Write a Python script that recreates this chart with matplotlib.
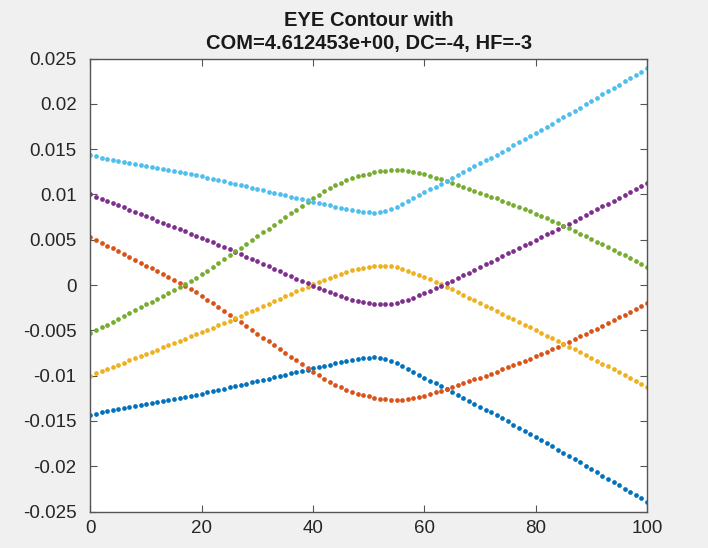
import numpy as np
import matplotlib.pyplot as plt

plt.rcParams['font.family'] = ['Liberation Sans', 'DejaVu Sans']

# sample index along the eye
sample = np.arange(101)

# eye contour traces, one value per sample
trace_blue = [
    -0.01430, -0.01419, -0.01407, -0.01396, -0.01384, -0.01373, -0.01361, -0.01350, -0.01338, -0.01327,
    -0.01315, -0.01304, -0.01292, -0.01281, -0.01269, -0.01258, -0.01246, -0.01235, -0.01223, -0.01212,
    -0.01200, -0.01186, -0.01172, -0.01158, -0.01144, -0.01130, -0.01116, -0.01102, -0.01088, -0.01074,
    -0.01060, -0.01046, -0.01032, -0.01018, -0.01004, -0.00990, -0.00976, -0.00962, -0.00948, -0.00934,
    -0.00920, -0.00906, -0.00892, -0.00878, -0.00865, -0.00852, -0.00840, -0.00829, -0.00819, -0.00810,
    -0.00804, -0.00800, -0.00803, -0.00815, -0.00836, -0.00864, -0.00895, -0.00927, -0.00959, -0.00991,
    -0.01023, -0.01055, -0.01087, -0.01119, -0.01151, -0.01183, -0.01215, -0.01247, -0.01279, -0.01311,
    -0.01343, -0.01375, -0.01407, -0.01440, -0.01473, -0.01506, -0.01540, -0.01574, -0.01608, -0.01642,
    -0.01677, -0.01712, -0.01747, -0.01782, -0.01817, -0.01852, -0.01887, -0.01923, -0.01959, -0.01995,
    -0.02031, -0.02067, -0.02103, -0.02139, -0.02175, -0.02211, -0.02247, -0.02283, -0.02319, -0.02355,
    -0.02391,
]
trace_orange = [
    0.00530, 0.00499, 0.00467, 0.00436, 0.00404, 0.00373, 0.00341, 0.00310, 0.00278, 0.00247,
    0.00215, 0.00184, 0.00152, 0.00121, 0.00089, 0.00058, 0.00026, -0.00007, -0.00043, -0.00080,
    -0.00118, -0.00160, -0.00202, -0.00244, -0.00286, -0.00328, -0.00370, -0.00412, -0.00454, -0.00496,
    -0.00538, -0.00580, -0.00622, -0.00664, -0.00706, -0.00748, -0.00790, -0.00832, -0.00874, -0.00916,
    -0.00957, -0.00996, -0.01033, -0.01068, -0.01100, -0.01129, -0.01155, -0.01178, -0.01198, -0.01215,
    -0.01230, -0.01243, -0.01254, -0.01262, -0.01267, -0.01268, -0.01265, -0.01258, -0.01248, -0.01235,
    -0.01220, -0.01203, -0.01185, -0.01165, -0.01145, -0.01125, -0.01105, -0.01084, -0.01063, -0.01042,
    -0.01021, -0.00999, -0.00977, -0.00955, -0.00932, -0.00909, -0.00886, -0.00862, -0.00838, -0.00813,
    -0.00788, -0.00762, -0.00736, -0.00709, -0.00682, -0.00654, -0.00626, -0.00597, -0.00568, -0.00539,
    -0.00510, -0.00480, -0.00450, -0.00420, -0.00389, -0.00358, -0.00327, -0.00295, -0.00263, -0.00231,
    -0.00199,
]
trace_yellow = [
    -0.01000, -0.00976, -0.00952, -0.00928, -0.00904, -0.00880, -0.00856, -0.00832, -0.00808, -0.00784,
    -0.00760, -0.00736, -0.00712, -0.00688, -0.00664, -0.00640, -0.00616, -0.00592, -0.00568, -0.00544,
    -0.00520, -0.00495, -0.00470, -0.00445, -0.00420, -0.00395, -0.00368, -0.00341, -0.00314, -0.00287,
    -0.00260, -0.00233, -0.00206, -0.00179, -0.00152, -0.00125, -0.00098, -0.00071, -0.00045, -0.00019,
    0.00006, 0.00031, 0.00056, 0.00080, 0.00103, 0.00124, 0.00144, 0.00162, 0.00178, 0.00192,
    0.00203, 0.00211, 0.00215, 0.00214, 0.00207, 0.00195, 0.00179, 0.00160, 0.00138, 0.00114,
    0.00089, 0.00063, 0.00036, 0.00009, -0.00018, -0.00048, -0.00078, -0.00108, -0.00138, -0.00168,
    -0.00198, -0.00228, -0.00258, -0.00288, -0.00318, -0.00348, -0.00378, -0.00408, -0.00438, -0.00468,
    -0.00498, -0.00528, -0.00558, -0.00588, -0.00618, -0.00648, -0.00679, -0.00710, -0.00741, -0.00772,
    -0.00803, -0.00835, -0.00867, -0.00899, -0.00931, -0.00963, -0.00995, -0.01027, -0.01059, -0.01091,
    -0.01123,
]
trace_purple = [
    0.01000, 0.00976, 0.00952, 0.00928, 0.00904, 0.00880, 0.00856, 0.00832, 0.00808, 0.00784,
    0.00760, 0.00736, 0.00712, 0.00688, 0.00664, 0.00640, 0.00616, 0.00592, 0.00568, 0.00544,
    0.00520, 0.00495, 0.00470, 0.00445, 0.00420, 0.00395, 0.00368, 0.00341, 0.00314, 0.00287,
    0.00260, 0.00233, 0.00206, 0.00179, 0.00152, 0.00125, 0.00098, 0.00071, 0.00045, 0.00019,
    -0.00006, -0.00031, -0.00056, -0.00080, -0.00103, -0.00124, -0.00144, -0.00162, -0.00178, -0.00192,
    -0.00203, -0.00211, -0.00215, -0.00214, -0.00207, -0.00195, -0.00179, -0.00160, -0.00138, -0.00114,
    -0.00089, -0.00063, -0.00036, -0.00009, 0.00018, 0.00048, 0.00078, 0.00108, 0.00138, 0.00168,
    0.00198, 0.00228, 0.00258, 0.00288, 0.00318, 0.00348, 0.00378, 0.00408, 0.00438, 0.00468,
    0.00498, 0.00528, 0.00558, 0.00588, 0.00618, 0.00648, 0.00679, 0.00710, 0.00741, 0.00772,
    0.00803, 0.00835, 0.00867, 0.00899, 0.00931, 0.00963, 0.00995, 0.01027, 0.01059, 0.01091,
    0.01123,
]
trace_green = [
    -0.00530, -0.00499, -0.00467, -0.00436, -0.00404, -0.00373, -0.00341, -0.00310, -0.00278, -0.00247,
    -0.00215, -0.00184, -0.00152, -0.00121, -0.00089, -0.00058, -0.00026, 0.00007, 0.00043, 0.00080,
    0.00118, 0.00160, 0.00202, 0.00244, 0.00286, 0.00328, 0.00370, 0.00412, 0.00454, 0.00496,
    0.00538, 0.00580, 0.00622, 0.00664, 0.00706, 0.00748, 0.00790, 0.00832, 0.00874, 0.00916,
    0.00957, 0.00996, 0.01033, 0.01068, 0.01100, 0.01129, 0.01155, 0.01178, 0.01198, 0.01215,
    0.01230, 0.01243, 0.01254, 0.01262, 0.01267, 0.01268, 0.01265, 0.01258, 0.01248, 0.01235,
    0.01220, 0.01203, 0.01185, 0.01165, 0.01145, 0.01125, 0.01105, 0.01084, 0.01063, 0.01042,
    0.01021, 0.00999, 0.00977, 0.00955, 0.00932, 0.00909, 0.00886, 0.00862, 0.00838, 0.00813,
    0.00788, 0.00762, 0.00736, 0.00709, 0.00682, 0.00654, 0.00626, 0.00597, 0.00568, 0.00539,
    0.00510, 0.00480, 0.00450, 0.00420, 0.00389, 0.00358, 0.00327, 0.00295, 0.00263, 0.00231,
    0.00199,
]
trace_cyan = [
    0.01430, 0.01419, 0.01407, 0.01396, 0.01384, 0.01373, 0.01361, 0.01350, 0.01338, 0.01327,
    0.01315, 0.01304, 0.01292, 0.01281, 0.01269, 0.01258, 0.01246, 0.01235, 0.01223, 0.01212,
    0.01200, 0.01186, 0.01172, 0.01158, 0.01144, 0.01130, 0.01116, 0.01102, 0.01088, 0.01074,
    0.01060, 0.01046, 0.01032, 0.01018, 0.01004, 0.00990, 0.00976, 0.00962, 0.00948, 0.00934,
    0.00920, 0.00906, 0.00892, 0.00878, 0.00865, 0.00852, 0.00840, 0.00829, 0.00819, 0.00810,
    0.00804, 0.00800, 0.00803, 0.00815, 0.00836, 0.00864, 0.00895, 0.00927, 0.00959, 0.00991,
    0.01023, 0.01055, 0.01087, 0.01119, 0.01151, 0.01183, 0.01215, 0.01247, 0.01279, 0.01311,
    0.01343, 0.01375, 0.01407, 0.01440, 0.01473, 0.01506, 0.01540, 0.01574, 0.01608, 0.01642,
    0.01677, 0.01712, 0.01747, 0.01782, 0.01817, 0.01852, 0.01887, 0.01923, 0.01959, 0.01995,
    0.02031, 0.02067, 0.02103, 0.02139, 0.02175, 0.02211, 0.02247, 0.02283, 0.02319, 0.02355,
    0.02391,
]

traces = [trace_blue, trace_orange, trace_yellow, trace_purple, trace_green, trace_cyan]
colors = ['#0072BD', '#D95319', '#EDB120', '#7E2F8E', '#77AC30', '#4DBEEE']

x_ticks = [0, 20, 40, 60, 80, 100]
y_ticks = [-0.025, -0.02, -0.015, -0.01, -0.005, 0, 0.005, 0.01, 0.015, 0.02, 0.025]
y_tick_labels = ['-0.025', '-0.02', '-0.015', '-0.01', '-0.005', '0',
                 '0.005', '0.01', '0.015', '0.02', '0.025']

fig = plt.figure(figsize=(7.08, 5.48), dpi=100, facecolor='#f0f0f0')
ax = fig.add_axes([0.1278, 0.0666, 0.7860, 0.8266])

for vals, c in zip(traces, colors):
    ax.plot(sample, vals, linestyle='none', marker='o', ms=3.4, mew=0, color=c)

ax.set_xlim(0, 100)
ax.set_ylim(-0.025, 0.025)
ax.set_xticks(x_ticks)
ax.set_yticks(y_ticks)
ax.set_yticklabels(y_tick_labels)

for s in ax.spines.values():
    s.set_color('#555555')
    s.set_linewidth(1.0)
ax.tick_params(direction='in', top=True, right=True, length=5, width=0.8,
               colors='#555555', labelcolor='#262626', labelsize=13.5)
ax.tick_params(axis='x', pad=6)
ax.tick_params(axis='y', pad=10)

ax.set_title('EYE Contour with\nCOM=4.612453e+00, DC=-4, HF=-3',
             fontsize=14.5, fontweight='bold', color='#1a1a1a', pad=7, linespacing=1.25)

fig.savefig('out.png', dpi=100, facecolor=fig.get_facecolor())
